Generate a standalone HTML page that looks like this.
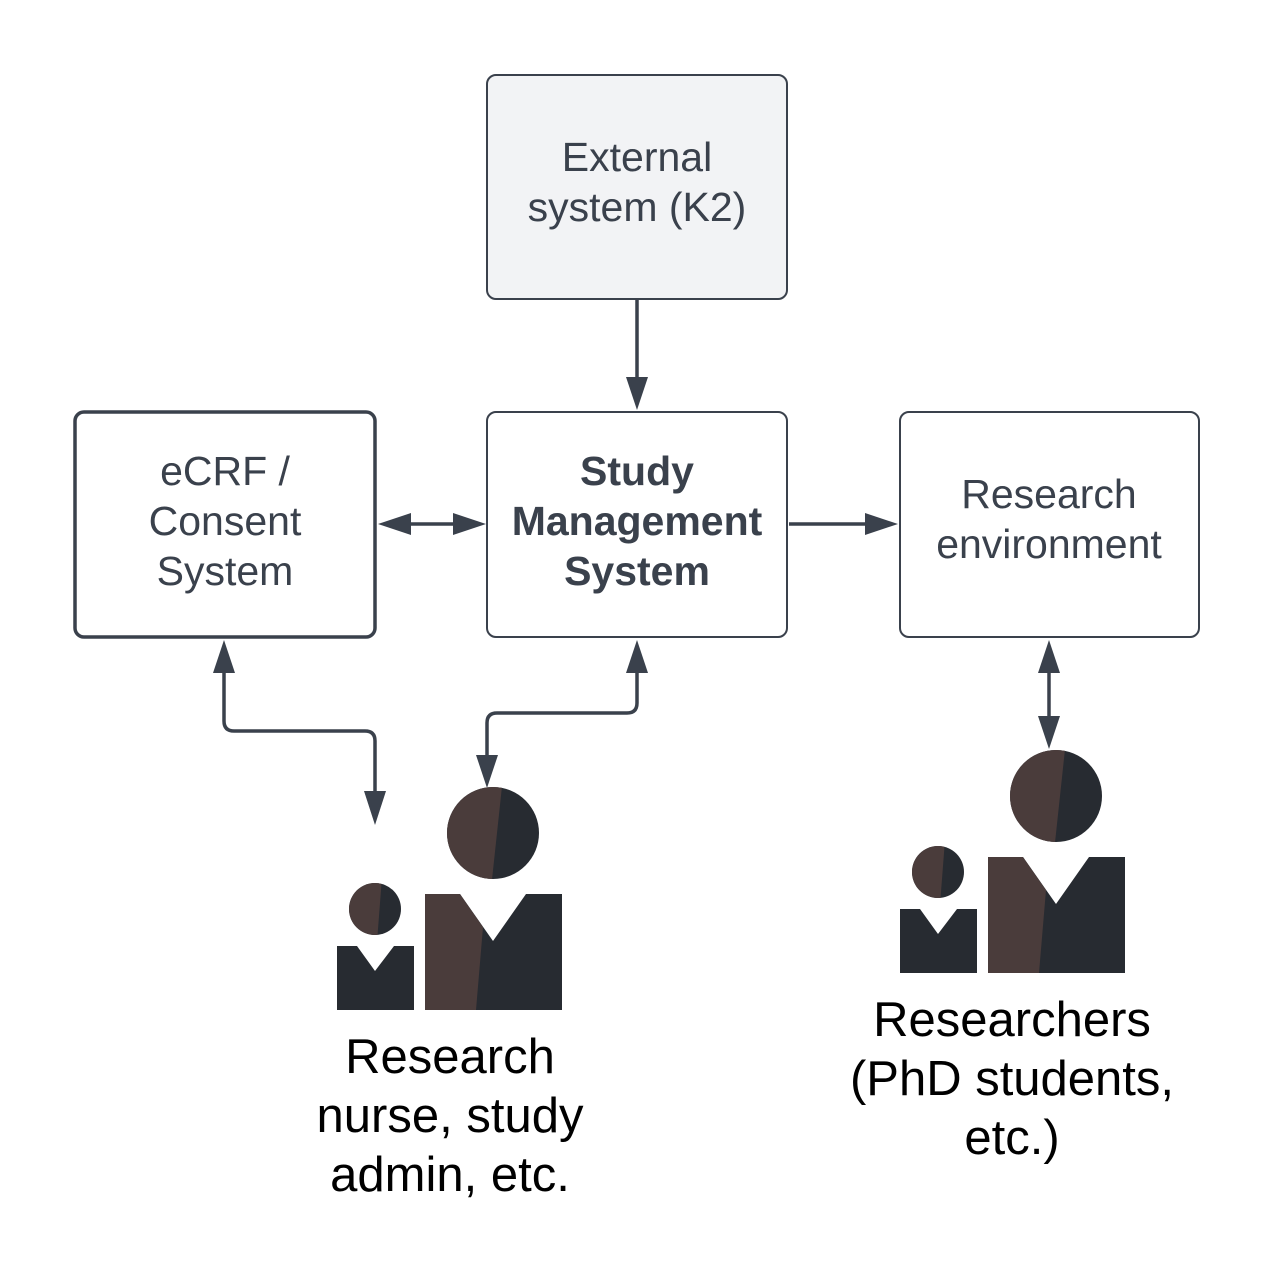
<!DOCTYPE html>
<html><head><meta charset="utf-8"><style>
html,body{margin:0;padding:0;background:#fff}
svg{display:block}
text{font-family:"Liberation Sans",Arial,sans-serif}
</style></head><body>
<svg width="1275" height="1262" viewBox="0 0 1275 1262" xmlns="http://www.w3.org/2000/svg">
<defs>
<g id="ppl">
  <clipPath id="bh"><circle cx="1056" cy="796" r="46"/></clipPath>
  <circle cx="1056" cy="796" r="46" fill="#272b31"/>
  <polygon points="1000,740 1066,740 1054,852 1000,852" fill="#4a3c3b" clip-path="url(#bh)"/>
  <clipPath id="sh"><circle cx="938" cy="872" r="26"/></clipPath>
  <circle cx="938" cy="872" r="26" fill="#272b31"/>
  <polygon points="900,840 945,840 940,905 900,905" fill="#4a3c3b" clip-path="url(#sh)"/>
  <polygon points="900,909 920,909 938,934 957,909 977,909 977,973 900,973" fill="#272b31"/>
  <polygon points="988,857 1023,857 1056,904 1089,857 1125,857 1125,973 988,973" fill="#272b31"/>
  <polygon points="988,857 1023,857 1046,890 1039,973 988,973" fill="#4a3c3b"/>
</g>
</defs>
<g stroke="#3a414c" fill="none">
  <rect x="487" y="75" width="300" height="224" rx="9" fill="#f2f3f5" stroke-width="2"/>
  <rect x="75" y="412" width="300" height="225" rx="9" fill="#fff" stroke-width="3.5"/>
  <rect x="487" y="412" width="300" height="225" rx="9" fill="#fff" stroke-width="2"/>
  <rect x="900" y="412" width="299" height="225" rx="9" fill="#fff" stroke-width="2"/>
  <g stroke-width="3.5">
    <line x1="637" y1="299" x2="637" y2="380"/>
    <line x1="405" y1="524" x2="460" y2="524"/>
    <line x1="789" y1="524" x2="870" y2="524"/>
    <path d="M224,670 V721 Q224,731 234,731 H365 Q375,731 375,741 V795"/>
    <path d="M637,670 V703 Q637,713 627,713 H497 Q487,713 487,723 V758"/>
    <line x1="1049" y1="670" x2="1049" y2="720"/>
  </g>
</g>
<g fill="#3a414c">
  <polygon points="626,377 648,377 637,410"/>
  <polygon points="378,524 411,513 411,535"/>
  <polygon points="486,524 453,513 453,535"/>
  <polygon points="898,524 865,513 865,535"/>
  <polygon points="224,640 213,673 235,673"/>
  <polygon points="375,825 364,791 386,791"/>
  <polygon points="637,640 626,673 648,673"/>
  <polygon points="487,788 476,755 498,755"/>
  <polygon points="1049,640 1038,673 1060,673"/>
  <polygon points="1049,749 1038,716 1060,716"/>
</g>
<use href="#ppl"/>
<use href="#ppl" transform="translate(-563,37)"/>
<g fill="#3a414c" font-size="41" text-anchor="middle">
  <text x="637" y="171">External</text>
  <text x="637" y="221">system (K2)</text>
  <text x="225" y="485">eCRF /</text>
  <text x="225" y="535">Consent</text>
  <text x="225" y="585">System</text>
  <text x="1049" y="508">Research</text>
  <text x="1049" y="558">environment</text>
  <g font-weight="bold">
    <text x="637" y="485">Study</text>
    <text x="637" y="535">Management</text>
    <text x="637" y="585">System</text>
  </g>
</g>
<g fill="#000" font-size="49" text-anchor="middle">
  <text x="450" y="1073">Research</text>
  <text x="450" y="1132">nurse, study</text>
  <text x="450" y="1191">admin, etc.</text>
  <text x="1012" y="1036">Researchers</text>
  <text x="1012" y="1095">(PhD students,</text>
  <text x="1012" y="1154">etc.)</text>
</g>
</svg>
</body></html>
